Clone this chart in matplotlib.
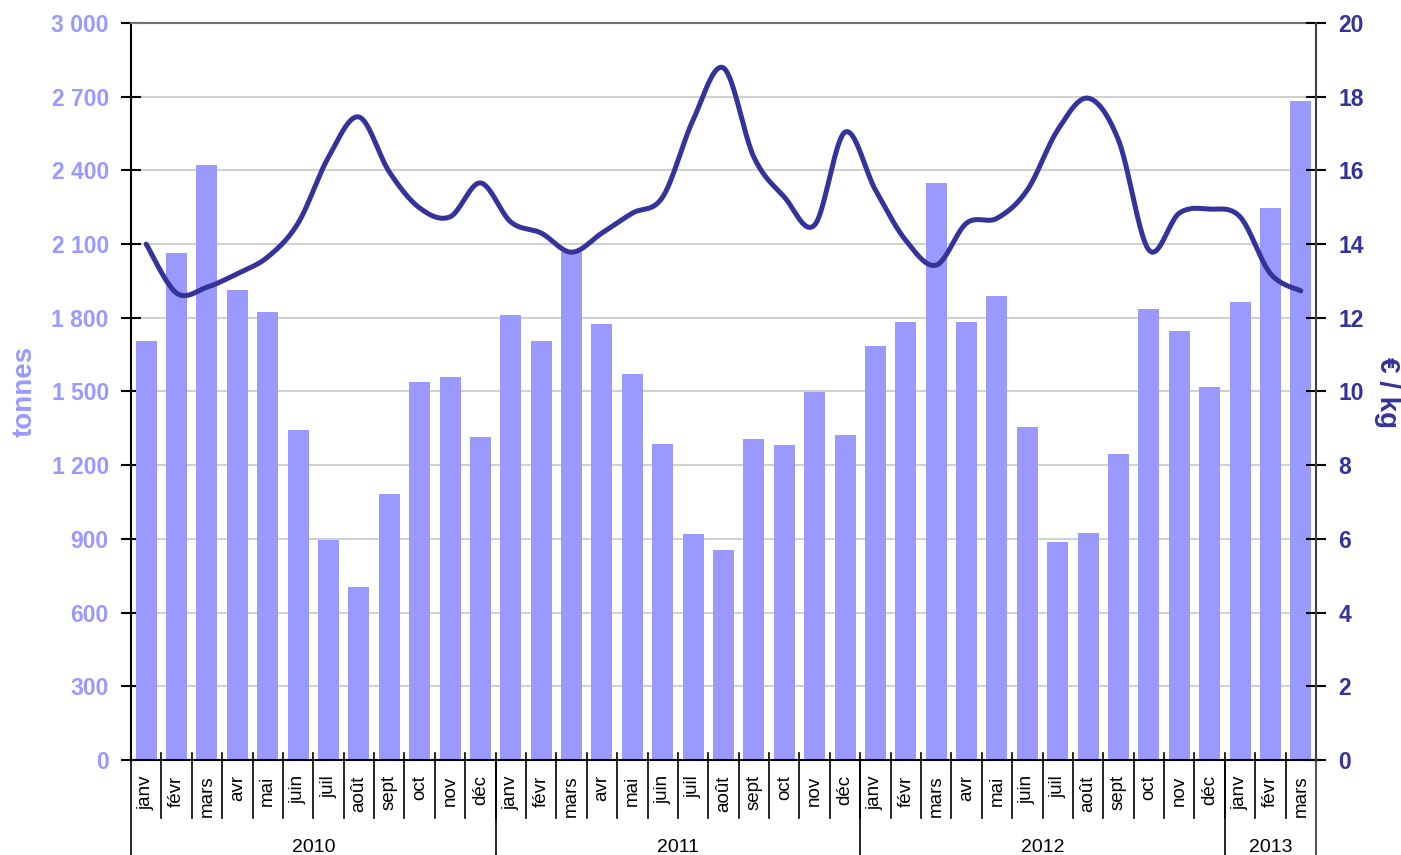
import matplotlib
matplotlib.use('Agg')
import matplotlib.pyplot as plt
import matplotlib.ticker as mticker
import numpy as np

plt.rcParams['font.family'] = ['Liberation Sans', 'DejaVu Sans']

# data
months = ['janv', 'févr', 'mars', 'avr', 'mai', 'juin', 'juil', 'août',
          'sept', 'oct', 'nov', 'déc'] * 3 + ['janv', 'févr', 'mars']
years = ['2010', '2011', '2012', '2013']
year_counts = [12, 12, 12, 3]

tonnes = [1705, 2064, 2422, 1913, 1824, 1343, 896, 704, 1083, 1539, 1559, 1315,
          1811, 1705, 2068, 1775, 1571, 1286, 920, 855, 1307, 1282, 1498, 1323,
          1685, 1783, 2349, 1783, 1889, 1356, 887, 923, 1246, 1836, 1746, 1518,
          1864, 2247, 2682]

prix = [14.0, 12.67, 12.83, 13.2, 13.65, 14.57, 16.36, 17.45, 15.96, 14.98, 14.74, 15.66,
        14.6, 14.3, 13.78, 14.3, 14.84, 15.28, 17.37, 18.78, 16.36, 15.28, 14.52, 17.04,
        15.47, 14.1, 13.43, 14.57, 14.7, 15.47, 17.1, 17.96, 16.82, 13.84, 14.84, 14.95,
        14.74, 13.2, 12.73]

bar_color = '#9999FF'
line_color = '#333399'


def smooth(xs, ys, n=24):
    # bezier curve through the points, excel style smoothing
    p = np.column_stack([xs, ys]).astype(float)
    p = np.vstack([p[0], p, p[-1]])
    out = []
    for i in range(1, len(p) - 2):
        p0, p1, p2, p3 = p[i - 1], p[i], p[i + 1], p[i + 2]
        c1 = p1 + (p2 - p0) / 6
        c2 = p2 - (p3 - p1) / 6
        t = np.linspace(0, 1, n)[:, None]
        seg = ((1 - t) ** 3) * p1 + 3 * ((1 - t) ** 2) * t * c1 + 3 * (1 - t) * t ** 2 * c2 + t ** 3 * p2
        out.append(seg if i == 1 else seg[1:])
    out = np.vstack(out)
    return out[:, 0], out[:, 1]


fig = plt.figure(figsize=(14.01, 8.55), dpi=100)
ax = fig.add_axes([131 / 1401, 1 - 760 / 855, 1185 / 1401, 737 / 855])
x = np.arange(len(tonnes))

ax.bar(x, tonnes, width=0.69, color=bar_color, zorder=2)
ax.set_xlim(-0.5, len(tonnes) - 0.5)
ax.set_ylim(0, 3000)
ax.set_yticks(np.arange(0, 3001, 300))
ax.yaxis.set_major_formatter(mticker.FuncFormatter(lambda v, p: f'{int(v):,}'.replace(',', ' ')))
ax.grid(axis='y', color='#C8C8C8', lw=1.2, zorder=0)
ax.set_axisbelow(True)

ax.tick_params(axis='y', direction='inout', length=14, width=1.5, pad=9,
               labelsize=16.5, colors='black')
for lab in ax.get_yticklabels():
    lab.set_fontweight('bold')
    lab.set_color(bar_color)

ax.set_xticks(x)
ax.set_xticklabels(months, rotation=90, fontsize=13.5)
ax.tick_params(axis='x', length=0, pad=11)

for s in ['left', 'bottom']:
    ax.spines[s].set_color('black')
    ax.spines[s].set_linewidth(1.5)
ax.spines['top'].set_color('#707070')
ax.spines['top'].set_linewidth(1.5)
ax.spines['right'].set_visible(False)

# separators between months and years
tr = ax.get_xaxis_transform()
for b in np.arange(0.5, len(tonnes) - 1, 1):
    ax.plot([b, b], [0.0095, -0.0787], color='black', lw=1.2, transform=tr, clip_on=False)
start = -0.5
for yr, c in zip(years, year_counts):
    ax.plot([start, start], [0, -0.13], color='black', lw=1.2, transform=tr, clip_on=False)
    ax.text(start + c / 2, -0.119, yr, transform=tr, ha='center', va='center', fontsize=14)
    start += c
ax.plot([start, start], [0, -0.13], color='#555555', lw=1.5, transform=tr, clip_on=False)

# price line on right axis
ax2 = ax.twinx()
sx, sy = smooth(x, prix)
ax2.plot(sx, sy, color=line_color, lw=3.6, solid_capstyle='round', zorder=3)
ax2.set_ylim(0, 20)
ax2.set_yticks(np.arange(0, 21, 2))
ax2.tick_params(axis='y', direction='inout', length=14, width=1.5, pad=9,
                labelsize=16.5, colors='black')
for lab in ax2.get_yticklabels():
    lab.set_fontweight('bold')
    lab.set_color(line_color)
for s in ['left', 'top', 'bottom']:
    ax2.spines[s].set_visible(False)
ax2.spines['right'].set_color('#404040')
ax2.spines['right'].set_linewidth(1.5)

fig.text(25 / 1401, 1 - 391 / 855, 'tonnes', rotation=90, ha='center', va='center',
         fontsize=20, fontweight='bold', color=bar_color)
fig.text(1387 / 1401, 1 - 392 / 855, '€ / kg', rotation=270, ha='center', va='center',
         fontsize=20, fontweight='bold', color=line_color)

fig.savefig('out.png', dpi=100)
